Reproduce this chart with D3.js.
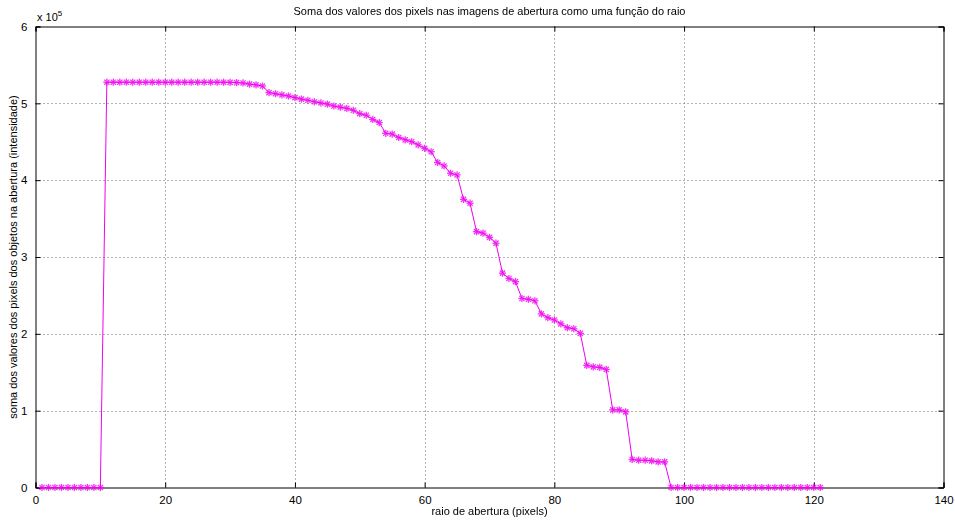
<!DOCTYPE html>
<html>
<head>
<meta charset="utf-8">
<script src="https://cdn.jsdelivr.net/npm/d3@7"></script>
<style>
  body { margin: 0; background: #ffffff; }
  svg { display: block; }
  text { font-family: "Liberation Sans", Arial, Helvetica, sans-serif; fill: #000; }
</style>
</head>
<body>
<svg id="chart" width="955" height="522"></svg>
<script>
// ---- data ----
const radius = [
  1,2,3,4,5,6,7,8,9,10,
  11,12,13,14,15,16,17,18,19,20,
  21,22,23,24,25,26,27,28,29,30,
  31,32,33,34,35,36,37,38,39,40,
  41,42,43,44,45,46,47,48,49,50,
  51,52,53,54,55,56,57,58,59,60,
  61,62,63,64,65,66,67,68,69,70,
  71,72,73,74,75,76,77,78,79,80,
  81,82,83,84,85,86,87,88,89,90,
  91,92,93,94,95,96,97,98,99,100,
  101,102,103,104,105,106,107,108,109,110,
  111,112,113,114,115,116,117,118,119,120,
  121
];
const pixelSum = [
  0,0,0,0,0,0,0,0,0,0,
  527500,527500,527500,527500,527500,527500,527500,527500,527500,527500,
  527500,527500,527500,527500,527500,527500,527500,527500,527500,527300,
  527000,526500,525000,524000,522500,514000,512500,511000,509500,507500,
  505500,504000,502000,500500,499000,496500,495000,493500,491000,486500,
  484500,479000,475000,461000,460000,455500,452500,450000,446000,441500,
  437000,423000,418500,409000,406800,375000,370000,333000,331000,325600,
  318000,279000,272000,268000,246000,245000,243000,226000,221000,218000,
  213000,208000,206600,200600,159000,157000,156300,153700,101000,101000,
  98500,36500,35500,35500,34700,33300,33300,0,0,0,
  0,0,0,0,0,0,0,0,0,0,
  0,0,0,0,0,0,0,0,0,0,
  0
];
const xTicks = [0, 20, 40, 60, 80, 100, 120, 140];
const yTicks = [0, 1, 2, 3, 4, 5, 6];
const yExponent = 5;
const titleText = "Soma dos valores dos pixels nas imagens de abertura como uma função do raio";
const xLabelText = "raio de abertura (pixels)";
const yLabelText = "soma dos valores dos pixels dos objetos na abertura (intensidade)";

// ---- layout ----
const svg = d3.select("#chart");
const L = 35.5, R = 943.5, T = 26.5, B = 487.5;
const scale = Math.pow(10, yExponent);
const x = d3.scaleLinear().domain([0, 140]).range([L, R]);
const y = d3.scaleLinear().domain([0, 6]).range([B, T]);
const lineColor = "#f000f0";

// grid
const grid = svg.append("g");
grid.selectAll(".gx").data(xTicks.slice(1, -1)).join("line")
  .attr("x1", d => Math.round(x(d)) + 0.5).attr("x2", d => Math.round(x(d)) + 0.5)
  .attr("y1", T).attr("y2", B)
  .attr("stroke", "#666").attr("stroke-width", 1).attr("stroke-dasharray", "1,3");
grid.selectAll(".gy").data(yTicks.slice(1, -1)).join("line")
  .attr("y1", d => Math.round(y(d)) + 0.5).attr("y2", d => Math.round(y(d)) + 0.5)
  .attr("x1", L).attr("x2", R)
  .attr("stroke", "#666").attr("stroke-width", 1).attr("stroke-dasharray", "1,3");

// axes (ticks inward, MATLAB style)
const axB = d3.axisBottom(x).tickValues(xTicks).tickSize(-5).tickPadding(8).tickFormat(d3.format("d"));
const axT = d3.axisTop(x).tickValues(xTicks).tickSize(-5).tickFormat("");
const axLft = d3.axisLeft(y).tickValues(yTicks).tickSize(-5).tickPadding(8).tickFormat(d3.format("d"));
const axRt = d3.axisRight(y).tickValues(yTicks).tickSize(-5).tickFormat("");

function styleAxis(g) {
  g.select(".domain").attr("stroke", "#000");
  g.selectAll(".tick line").attr("stroke", "#000");
  g.selectAll(".tick text").attr("font-size", 11.5).attr("fill", "#000")
    .attr("font-family", "Liberation Sans, Arial, sans-serif");
}
svg.append("g").attr("transform", `translate(0,${B})`).call(axB).call(styleAxis);
svg.append("g").attr("transform", `translate(0,${T})`).call(axT).call(styleAxis);
svg.append("g").attr("transform", `translate(${L},0)`).call(axLft).call(styleAxis);
svg.append("g").attr("transform", `translate(${R},0)`).call(axRt).call(styleAxis);

// data line
const pts = radius.map((r, i) => [r, pixelSum[i] / scale]);
const line = d3.line().x(d => x(d[0])).y(d => y(d[1]));
svg.append("path").datum(pts)
  .attr("d", line).attr("fill", "none")
  .attr("stroke", lineColor).attr("stroke-width", 1);

// asterisk markers
const m = 3.6, md = 2.6;
const markers = svg.append("g").attr("stroke", lineColor).attr("stroke-width", 1.3).attr("opacity", 0.8);
const mk = markers.selectAll("g").data(pts).join("g")
  .attr("transform", d => `translate(${x(d[0])},${y(d[1])})`);
mk.append("line").attr("x1", -m).attr("x2", m).attr("y1", 0).attr("y2", 0);
mk.append("line").attr("x1", 0).attr("x2", 0).attr("y1", -m).attr("y2", m);
mk.append("line").attr("x1", -md).attr("x2", md).attr("y1", -md).attr("y2", md);
mk.append("line").attr("x1", -md).attr("x2", md).attr("y1", md).attr("y2", -md);

// texts
svg.append("text").attr("x", (L + R) / 2).attr("y", 15)
  .attr("text-anchor", "middle").attr("font-size", 11).text(titleText);
svg.append("text").attr("x", (L + R) / 2).attr("y", 515)
  .attr("text-anchor", "middle").attr("font-size", 11).text(xLabelText);
svg.append("text")
  .attr("transform", `translate(17,${(T + B) / 2}) rotate(-90)`)
  .attr("text-anchor", "middle").attr("font-size", 11).text(yLabelText);
const ex = svg.append("text").attr("x", 37).attr("y", 21).attr("font-size", 11);
ex.append("tspan").text("x 10");
ex.append("tspan").attr("font-size", 8).attr("dy", -5).text(String(yExponent));
</script>
</body>
</html>
